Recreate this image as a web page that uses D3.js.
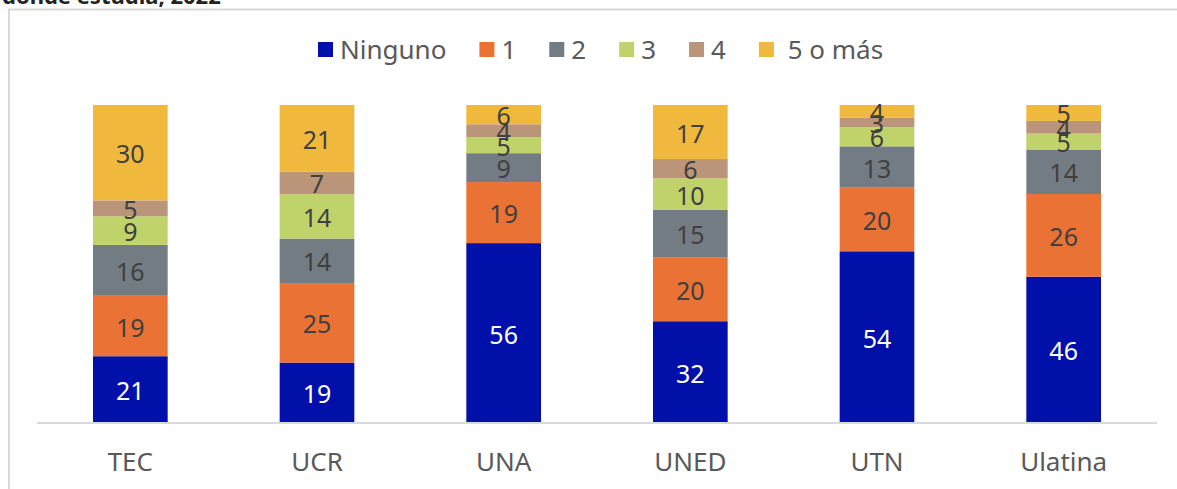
<!DOCTYPE html>
<html>
<head>
<meta charset="utf-8"/>
<script src="https://cdn.jsdelivr.net/npm/d3@7"></script>
<title>Hijos por universidad</title>
<style>
body { margin: 0; background: #fff; }
text { font-family: "Noto Sans", "Open Sans", sans-serif; }
.lbl { font-size: 25px; }
.leg { font-size: 26px; fill: #595959; }
.cat { font-size: 26px; fill: #595959; }
</style>
</head>
<body>
<svg width="1177" height="489"></svg>
<script>
// data
var universidades = ["TEC", "UCR", "UNA", "UNED", "UTN", "Ulatina"];
var series = ["Ninguno", "1", "2", "3", "4", "5 o más"];
var ninguno = [21, 19, 56, 32, 54, 46];
var uno     = [19, 25, 19, 20, 20, 26];
var dos     = [16, 14, 9, 15, 13, 14];
var tres    = [9, 14, 5, 10, 6, 5];
var cuatro  = [5, 7, 4, 6, 3, 4];
var cinco   = [30, 21, 6, 17, 4, 5];
var colores = ["#0010a8", "#ea7234", "#747c83", "#c0d36b", "#ba957a", "#f1b83e"];

var valores = [ninguno, uno, dos, tres, cuatro, cinco];
var filas = universidades.map(function(u, i) {
  var r = { uni: u };
  series.forEach(function(s, j) { r[s] = valores[j][i]; });
  return r;
});

var svg = d3.select("svg");

// cut-off title and frame
svg.append("text")
    .attr("x", 2).attr("y", 4)
    .style("font-size", "22px").style("font-weight", "bold").style("fill", "#222")
    .text("donde estudia, 2022");

svg.append("path")
    .attr("d", "M9,489V9.5H1177")
    .attr("fill", "none")
    .attr("stroke", "#d9d9d9")
    .attr("stroke-width", 2);

var x = d3.scaleBand().domain(universidades).range([37, 1157]).paddingInner(0.6).paddingOuter(0.3);
var y = d3.scaleLinear().domain([0, 1]).range([423, 105]);

var stack = d3.stack().keys(series).offset(d3.stackOffsetExpand);
var capas = stack(filas);

var g = svg.append("g");
var capa = g.selectAll("g.capa")
  .data(capas)
  .enter().append("g")
    .attr("class", "capa")
    .attr("fill", function(d, i) { return colores[i]; });

capa.selectAll("rect")
  .data(function(d) { return d; })
  .enter().append("rect")
    .attr("x", function(d) { return x(d.data.uni); })
    .attr("width", x.bandwidth())
    .attr("y", function(d) { return y(d[1]); })
    .attr("height", function(d) { return y(d[0]) - y(d[1]); });

// value labels
capas.forEach(function(c, i) {
  g.selectAll(null)
    .data(c)
    .enter().append("text")
      .attr("class", "lbl")
      .attr("x", function(d) { return x(d.data.uni) + x.bandwidth() / 2; })
      .attr("y", function(d) { return (y(d[0]) + y(d[1])) / 2; })
      .attr("dy", "0.42em")
      .attr("text-anchor", "middle")
      .style("fill", i === 0 ? "#fff" : "#404040")
      .text(function(d) { return d.data[c.key]; });
});

// axis
var eje = svg.append("g")
    .attr("transform", "translate(0,423)")
    .call(d3.axisBottom(x).tickSize(0).tickPadding(0));
eje.select(".domain").attr("stroke", "#d9d9d9").attr("stroke-width", 2)
    .attr("d", "M37,0H1157");
eje.selectAll(".tick text")
    .attr("class", "cat")
    .attr("y", 48)
    .attr("dy", 0)
    .style("font-family", null)
    .style("font-size", null);

// legend
var leyenda = svg.append("g").attr("transform", "translate(0,50)");
var lx = 318;
series.forEach(function(s, i) {
  leyenda.append("rect")
      .attr("x", lx).attr("y", -8)
      .attr("width", 15).attr("height", 15)
      .attr("fill", colores[i]);
  var t = leyenda.append("text")
      .attr("class", "leg")
      .attr("x", lx + 22)
      .attr("dy", "0.35em")
      .text(i === series.length - 1 ? "\u00a0" + s : s);
  lx += 22 + t.node().getComputedTextLength() + 33;
});
</script>
</body>
</html>
